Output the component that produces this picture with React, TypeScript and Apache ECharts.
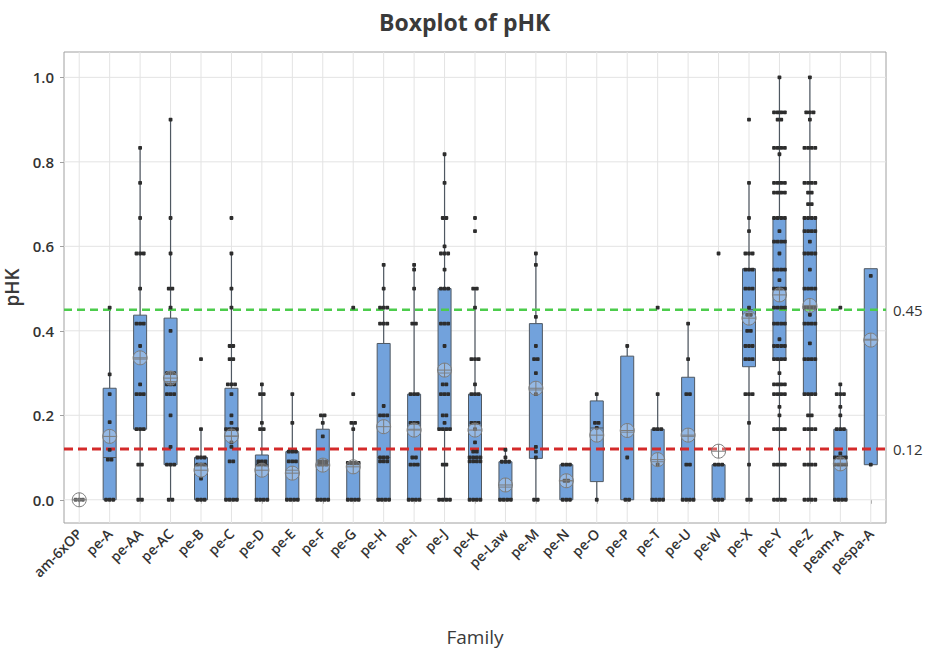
import React, { useEffect, useRef } from 'react';
import * as echarts from 'echarts';

const categories = [
  'am-6xOP', 'pe-A', 'pe-AA', 'pe-AC', 'pe-B', 'pe-C', 'pe-D', 'pe-E', 'pe-F', 'pe-G',
  'pe-H', 'pe-I', 'pe-J', 'pe-K', 'pe-Law', 'pe-M', 'pe-N', 'pe-O', 'pe-P', 'pe-T',
  'pe-U', 'pe-W', 'pe-X', 'pe-Y', 'pe-Z', 'peam-A', 'pespa-A',
];

const whiskerLow = [0, 0, 0, 0, 0, 0, 0, 0, 0, 0, 0, 0, 0, 0, 0, 0, 0, 0, 0, 0, 0, 0, 0, 0, 0, 0, 0.083];
const q1 = [0, 0, 0.167, 0.083, 0, 0, 0, 0, 0, 0, 0, 0, 0.167, 0, 0, 0.098, 0, 0.043, 0, 0, 0, 0, 0.315, 0.333, 0.25, 0, 0.083];
const median = [0, 0.1, 0.333, 0.28, 0.083, 0.15, 0.083, 0.07, 0.083, 0.083, 0.1, 0.167, 0.3, 0.1, 0.03, 0.26, 0.045, 0.17, 0.16, 0.09, 0.15, 0.083, 0.45, 0.5, 0.45, 0.083, 0.38];
const q3 = [0, 0.264, 0.437, 0.43, 0.1, 0.264, 0.106, 0.114, 0.167, 0.087, 0.37, 0.25, 0.5, 0.25, 0.09, 0.417, 0.083, 0.234, 0.34, 0.167, 0.29, 0.083, 0.547, 0.667, 0.667, 0.167, 0.547];
const whiskerHigh = [0, 0.455, 0.833, 0.9, 0.167, 0.583, 0.273, 0.25, 0.2, 0.182, 0.556, 0.556, 0.818, 0.5, 0.118, 0.583, 0.083, 0.25, 0.364, 0.25, 0.417, 0.083, 0.75, 1.0, 1.0, 0.273, 0.547];
const means = [0, 0.15, 0.336, 0.288, 0.07, 0.151, 0.07, 0.063, 0.082, 0.078, 0.173, 0.165, 0.307, 0.165, 0.035, 0.264, 0.045, 0.153, 0.164, 0.095, 0.153, 0.115, 0.43, 0.485, 0.46, 0.085, 0.378];

// [family, value, number of observations at that value]
const points: [string, number, number][] = [
  ['am-6xOP', 0, 3],
  ['pe-A', 0.455, 1], ['pe-A', 0.297, 1], ['pe-A', 0.25, 1], ['pe-A', 0.184, 1], ['pe-A', 0.118, 1], ['pe-A', 0.095, 2], ['pe-A', 0, 3],
  ['pe-AA', 0.833, 1], ['pe-AA', 0.75, 1], ['pe-AA', 0.667, 1], ['pe-AA', 0.583, 3], ['pe-AA', 0.5, 1], ['pe-AA', 0.417, 3], ['pe-AA', 0.364, 1], ['pe-AA', 0.273, 1], ['pe-AA', 0.25, 3], ['pe-AA', 0.167, 3], ['pe-AA', 0.083, 2], ['pe-AA', 0, 2],
  ['pe-AC', 0.9, 1], ['pe-AC', 0.667, 1], ['pe-AC', 0.583, 1], ['pe-AC', 0.5, 2], ['pe-AC', 0.455, 1], ['pe-AC', 0.4, 1], ['pe-AC', 0.3, 3], ['pe-AC', 0.273, 3], ['pe-AC', 0.25, 3], ['pe-AC', 0.2, 1], ['pe-AC', 0.125, 1], ['pe-AC', 0.083, 3], ['pe-AC', 0, 2],
  ['pe-B', 0.333, 1], ['pe-B', 0.167, 1], ['pe-B', 0.1, 3], ['pe-B', 0.083, 3], ['pe-B', 0.05, 1], ['pe-B', 0, 3],
  ['pe-C', 0.667, 1], ['pe-C', 0.583, 1], ['pe-C', 0.5, 1], ['pe-C', 0.455, 1], ['pe-C', 0.364, 2], ['pe-C', 0.333, 2], ['pe-C', 0.273, 3], ['pe-C', 0.25, 1], ['pe-C', 0.2, 1], ['pe-C', 0.182, 1], ['pe-C', 0.167, 4], ['pe-C', 0.136, 1], ['pe-C', 0.125, 1], ['pe-C', 0.091, 2], ['pe-C', 0, 4],
  ['pe-D', 0.273, 1], ['pe-D', 0.25, 2], ['pe-D', 0.182, 1], ['pe-D', 0.167, 2], ['pe-D', 0.091, 3], ['pe-D', 0.083, 3], ['pe-D', 0, 4],
  ['pe-E', 0.25, 1], ['pe-E', 0.182, 1], ['pe-E', 0.114, 3], ['pe-E', 0.091, 3], ['pe-E', 0, 4],
  ['pe-F', 0.2, 2], ['pe-F', 0.182, 1], ['pe-F', 0.15, 1], ['pe-F', 0.091, 3], ['pe-F', 0.083, 3], ['pe-F', 0, 4],
  ['pe-G', 0.455, 1], ['pe-G', 0.25, 1], ['pe-G', 0.182, 2], ['pe-G', 0.167, 1], ['pe-G', 0.087, 4], ['pe-G', 0, 4],
  ['pe-H', 0.556, 1], ['pe-H', 0.5, 1], ['pe-H', 0.455, 3], ['pe-H', 0.417, 3], ['pe-H', 0.222, 1], ['pe-H', 0.2, 3], ['pe-H', 0.1, 3], ['pe-H', 0.091, 3], ['pe-H', 0, 4],
  ['pe-I', 0.556, 1], ['pe-I', 0.545, 1], ['pe-I', 0.5, 1], ['pe-I', 0.417, 2], ['pe-I', 0.25, 3], ['pe-I', 0.182, 3], ['pe-I', 0.1, 2], ['pe-I', 0.083, 3], ['pe-I', 0, 4],
  ['pe-J', 0.818, 1], ['pe-J', 0.75, 1], ['pe-J', 0.667, 2], ['pe-J', 0.6, 1], ['pe-J', 0.583, 3], ['pe-J', 0.545, 1], ['pe-J', 0.5, 3], ['pe-J', 0.417, 3], ['pe-J', 0.364, 1], ['pe-J', 0.273, 2], ['pe-J', 0.25, 3], ['pe-J', 0.2, 2], ['pe-J', 0.182, 1], ['pe-J', 0.167, 4], ['pe-J', 0.083, 2], ['pe-J', 0, 4],
  ['pe-K', 0.667, 1], ['pe-K', 0.636, 1], ['pe-K', 0.5, 2], ['pe-K', 0.455, 1], ['pe-K', 0.333, 3], ['pe-K', 0.273, 1], ['pe-K', 0.25, 3], ['pe-K', 0.182, 3], ['pe-K', 0.167, 1], ['pe-K', 0.136, 1], ['pe-K', 0.114, 2], ['pe-K', 0.1, 4], ['pe-K', 0.091, 4], ['pe-K', 0, 4],
  ['pe-Law', 0.118, 1], ['pe-Law', 0.1, 1], ['pe-Law', 0.09, 3], ['pe-Law', 0, 4],
  ['pe-M', 0.583, 1], ['pe-M', 0.556, 1], ['pe-M', 0.433, 1], ['pe-M', 0.364, 1], ['pe-M', 0.333, 2], ['pe-M', 0.3, 1], ['pe-M', 0.25, 1], ['pe-M', 0.125, 1], ['pe-M', 0.114, 1], ['pe-M', 0.1, 1], ['pe-M', 0, 2],
  ['pe-N', 0.083, 3], ['pe-N', 0.045, 2], ['pe-N', 0, 3],
  ['pe-O', 0.25, 1], ['pe-O', 0.182, 2], ['pe-O', 0.17, 1], ['pe-O', 0, 1],
  ['pe-P', 0.364, 1], ['pe-P', 0.1, 1], ['pe-P', 0, 2],
  ['pe-T', 0.455, 1], ['pe-T', 0.25, 1], ['pe-T', 0.167, 3], ['pe-T', 0.083, 1], ['pe-T', 0, 4],
  ['pe-U', 0.417, 1], ['pe-U', 0.333, 1], ['pe-U', 0.25, 2], ['pe-U', 0.083, 2], ['pe-U', 0, 4],
  ['pe-W', 0.583, 1], ['pe-W', 0.083, 3], ['pe-W', 0, 3],
  ['pe-X', 0.9, 1], ['pe-X', 0.75, 1], ['pe-X', 0.667, 1], ['pe-X', 0.636, 1], ['pe-X', 0.583, 3], ['pe-X', 0.545, 3], ['pe-X', 0.5, 3], ['pe-X', 0.455, 1], ['pe-X', 0.438, 2], ['pe-X', 0.4, 2], ['pe-X', 0.364, 3], ['pe-X', 0.333, 3], ['pe-X', 0.25, 3], ['pe-X', 0.182, 1], ['pe-X', 0.083, 1], ['pe-X', 0, 2],
  ['pe-Y', 1.0, 1], ['pe-Y', 0.917, 4], ['pe-Y', 0.9, 2], ['pe-Y', 0.833, 4], ['pe-Y', 0.818, 1], ['pe-Y', 0.75, 4], ['pe-Y', 0.727, 4], ['pe-Y', 0.667, 4], ['pe-Y', 0.636, 1], ['pe-Y', 0.611, 4], ['pe-Y', 0.583, 1], ['pe-Y', 0.545, 4], ['pe-Y', 0.52, 1], ['pe-Y', 0.5, 4], ['pe-Y', 0.455, 4], ['pe-Y', 0.417, 4], ['pe-Y', 0.38, 1], ['pe-Y', 0.364, 4], ['pe-Y', 0.333, 4], ['pe-Y', 0.3, 1], ['pe-Y', 0.273, 4], ['pe-Y', 0.25, 4], ['pe-Y', 0.22, 1], ['pe-Y', 0.2, 1], ['pe-Y', 0.167, 4], ['pe-Y', 0.083, 4], ['pe-Y', 0, 4],
  ['pe-Z', 1.0, 1], ['pe-Z', 0.917, 3], ['pe-Z', 0.9, 1], ['pe-Z', 0.833, 4], ['pe-Z', 0.75, 4], ['pe-Z', 0.727, 2], ['pe-Z', 0.7, 2], ['pe-Z', 0.667, 4], ['pe-Z', 0.636, 4], ['pe-Z', 0.611, 1], ['pe-Z', 0.583, 4], ['pe-Z', 0.545, 1], ['pe-Z', 0.5, 4], ['pe-Z', 0.455, 4], ['pe-Z', 0.438, 1], ['pe-Z', 0.417, 4], ['pe-Z', 0.37, 1], ['pe-Z', 0.333, 4], ['pe-Z', 0.25, 4], ['pe-Z', 0.2, 2], ['pe-Z', 0.167, 4], ['pe-Z', 0.083, 4], ['pe-Z', 0, 4],
  ['peam-A', 0.455, 1], ['peam-A', 0.273, 1], ['peam-A', 0.25, 3], ['peam-A', 0.22, 1], ['peam-A', 0.2, 1], ['peam-A', 0.167, 3], ['peam-A', 0.11, 1], ['peam-A', 0.1, 4], ['peam-A', 0.083, 4], ['peam-A', 0, 4],
  ['pespa-A', 0.53, 1], ['pespa-A', 0.083, 1],
];

const yTicks = [0, 0.2, 0.4, 0.6, 0.8, 1.0];
const refValues = [0.45, 0.12];
const refLabels = ['0.45', '0.12'];

export default function App() {
  const ref = useRef<HTMLDivElement>(null);

  useEffect(() => {
    const chart = echarts.init(ref.current!, null, { renderer: 'svg' });
    const font = '"Open Sans", "Noto Sans", sans-serif';
    const refColors = ['#4ccc4c', '#d42a2a'];
    const refDash = [[8, 5], [9, 5]];
    const refWidth = [2.5, 3];

    const gridV = categories.map((_, i) => [i, 0]);
    const gridH = yTicks.map((v) => [0, v]);
    const boxData = categories.map((_, i) => [i, whiskerLow[i], q1[i], median[i], q3[i], whiskerHigh[i]]);
    const pointData = points.map(([c, v, n]) => [categories.indexOf(c), v, n]);
    const meanData = means.map((m, i) => [i, m]);
    const refData = refValues.map((v, k) => [0, v, k]);

    const option: any = {
      animation: false,
      backgroundColor: '#ffffff',
      textStyle: { fontFamily: font },
      title: {
        text: 'Boxplot of pHK',
        left: 374,
        top: 5,
        textStyle: { fontFamily: font, fontSize: 23, fontWeight: 'bold', color: '#3a3a3a' },
      },
      grid: {
        left: 64, right: 60, top: 52, bottom: 133,
        containLabel: false,
        outerBoundsMode: 'none',
        show: true, borderColor: '#a0a0a0', borderWidth: 1, backgroundColor: '#ffffff',
      },
      xAxis: {
        type: 'category',
        data: categories,
        boundaryGap: true,
        name: 'Family',
        nameLocation: 'middle',
        nameGap: 104,
        nameTextStyle: { fontFamily: font, fontSize: 19, color: '#3a3a3a' },
        axisLine: { show: false },
        axisTick: { show: true, alignWithLabel: true, length: 4, lineStyle: { color: '#a0a0a0' } },
        axisLabel: { rotate: 45, fontSize: 14, color: '#333', fontFamily: font, fontWeight: 600, margin: 8, interval: 0 },
        splitLine: { show: false },
      },
      yAxis: {
        type: 'value',
        min: -0.055,
        max: 1.06,
        name: 'pHK',
        nameLocation: 'middle',
        nameGap: 38,
        nameTextStyle: { fontFamily: font, fontSize: 19, fontWeight: 600, color: '#3a3a3a' },
        axisLine: { show: false },
        axisTick: { show: true, customValues: yTicks, length: 4, lineStyle: { color: '#a0a0a0' } },
        axisLabel: {
          customValues: yTicks, fontSize: 15, color: '#333', fontFamily: font, fontWeight: 600, margin: 10,
          formatter: (v: number) => v.toFixed(1),
        },
        splitLine: { show: false },
      },
      series: [
        {
          type: 'custom', name: 'gridV', z: 1, silent: true, data: gridV,
          renderItem: (params: any, api: any) => {
            const cs = params.coordSys;
            const x = api.coord([api.value(0), 0])[0];
            return { type: 'line', shape: { x1: x, y1: cs.y, x2: x, y2: cs.y + cs.height }, style: { stroke: '#e3e3e3', lineWidth: 1 } };
          },
        },
        {
          type: 'custom', name: 'gridH', z: 1, silent: true, data: gridH,
          renderItem: (params: any, api: any) => {
            const cs = params.coordSys;
            const y = api.coord([0, api.value(1)])[1];
            return { type: 'line', shape: { x1: cs.x, y1: y, x2: cs.x + cs.width, y2: y }, style: { stroke: '#e3e3e3', lineWidth: 1 } };
          },
        },
        {
          type: 'custom', name: 'box', z: 2, data: boxData,
          encode: { x: 0, y: [1, 2, 3, 4, 5] },
          renderItem: (params: any, api: any) => {
            const i = api.value(0);
            const x = api.coord([i, 0])[0];
            const wl = api.value(1), a = api.value(2), m = api.value(3), b = api.value(4), wh = api.value(5);
            const y = (v: number) => api.coord([i, v])[1];
            const half = 6.5;
            const stroke = '#4f5862';
            const children: any[] = [];
            if (wh > b) children.push({ type: 'line', shape: { x1: x, y1: y(b), x2: x, y2: y(wh) }, style: { stroke, lineWidth: 1.2 } });
            if (a > wl) children.push({ type: 'line', shape: { x1: x, y1: y(wl), x2: x, y2: y(a) }, style: { stroke, lineWidth: 1.2 } });
            if (b > a) {
              children.push({ type: 'rect', shape: { x: x - half, y: y(b), width: half * 2, height: y(a) - y(b) }, style: { fill: '#72a2dc', stroke, lineWidth: 1 } });
              children.push({ type: 'line', shape: { x1: x - half, y1: y(m), x2: x + half, y2: y(m) }, style: { stroke, lineWidth: 1 } });
            }
            return { type: 'group', children };
          },
        },
        {
          type: 'custom', name: 'refs', z: 3, silent: true, data: refData,
          renderItem: (params: any, api: any) => {
            const cs = params.coordSys;
            const k = api.value(2);
            const y = api.coord([0, api.value(1)])[1];
            return {
              type: 'group',
              children: [
                { type: 'line', shape: { x1: cs.x, y1: y, x2: cs.x + cs.width, y2: y }, style: { stroke: refColors[k], lineWidth: refWidth[k], lineDash: refDash[k] } },
                { type: 'text', x: cs.x + cs.width + 7, y, style: { text: refLabels[k], fill: '#333', fontSize: 15, fontFamily: font, verticalAlign: 'middle', align: 'left' } },
              ],
            };
          },
        },
        {
          type: 'custom', name: 'points', z: 4, data: pointData,
          renderItem: (params: any, api: any) => {
            const [x, y] = api.coord([api.value(0), api.value(1)]);
            const n = api.value(2);
            const s = 3.8;
            const children: any[] = [];
            for (let k = 0; k < n; k++) {
              const cx = x + (k - (n - 1) / 2) * 3.6;
              children.push({ type: 'rect', shape: { x: cx - s / 2, y: y - s / 2, width: s, height: s, r: 0.8 }, style: { fill: '#2d2d2d' } });
            }
            return { type: 'group', children };
          },
        },
        {
          type: 'custom', name: 'mean', z: 5, data: meanData,
          renderItem: (params: any, api: any) => {
            const [x, y] = api.coord([api.value(0), api.value(1)]);
            const r = 7;
            const st = { stroke: '#7c7c7c', lineWidth: 1 };
            return {
              type: 'group',
              children: [
                { type: 'circle', shape: { cx: x, cy: y, r }, style: { fill: 'rgba(255,255,255,0.25)', ...st } },
                { type: 'line', shape: { x1: x - r, y1: y, x2: x + r, y2: y }, style: st },
                { type: 'line', shape: { x1: x, y1: y - r, x2: x, y2: y + r }, style: st },
              ],
            };
          },
        },
      ],
    };

    chart.setOption(option);
    return () => chart.dispose();
  }, []);

  return <div ref={ref} style={{ position: 'fixed', left: 0, top: 0, width: 946, height: 656 }} />;
}
